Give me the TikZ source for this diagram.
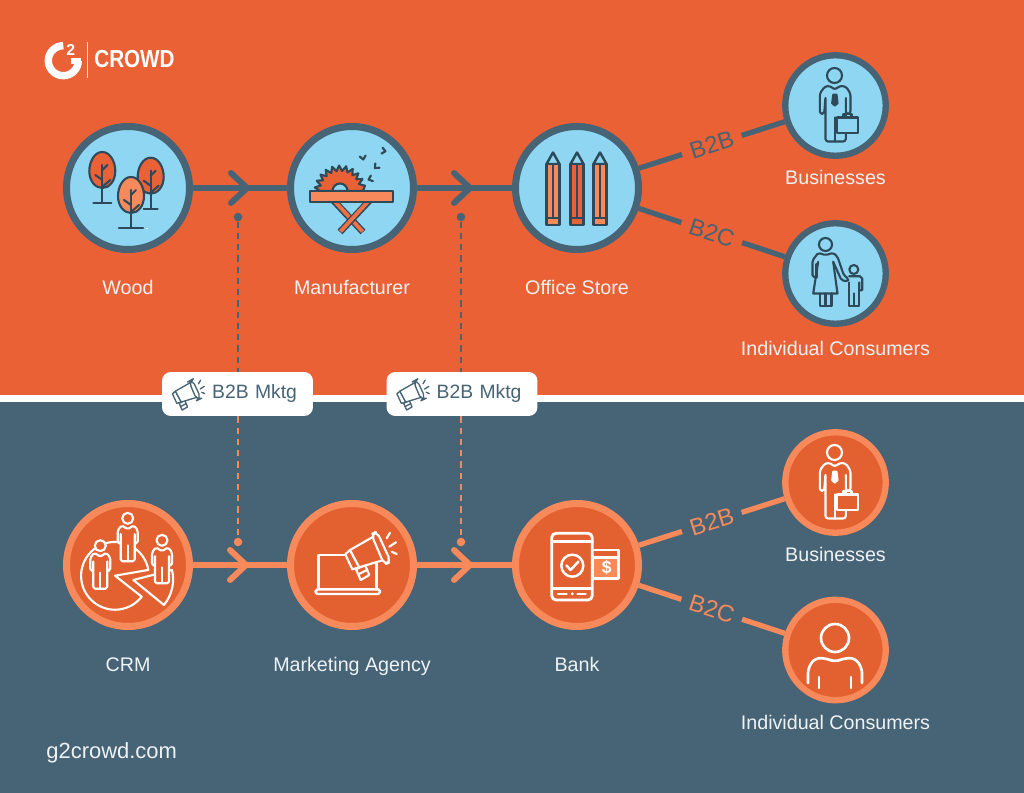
\documentclass[tikz,border=0pt]{standalone}
\usepackage{fontspec}
\setmainfont{Liberation Sans}
\usetikzlibrary{positioning}

\definecolor{topbg}{HTML}{EA6135}
\definecolor{slate}{HTML}{466475}
\definecolor{deepink}{HTML}{2E4A5A}
\definecolor{sky}{HTML}{8ED6F1}
\definecolor{pale}{HTML}{F7895A}
\definecolor{botfill}{HTML}{E36131}
\definecolor{paper}{HTML}{EEF2F4}
\colorlet{iconink}{deepink}
\colorlet{iconfill}{sky}

\tikzset{
    hubtop/.style={circle, draw=slate, fill=sky, line width=4pt, minimum size=2.46cm},
    leaftop/.style={hubtop, minimum size=2.01cm, line width=3.6pt},
    hubbot/.style={circle, draw=pale, fill=botfill, line width=4pt, minimum size=2.46cm},
    leafbot/.style={hubbot, minimum size=2.01cm, line width=3.6pt},
    caption/.style={text=paper, font=\fontsize{11.2}{13}\selectfont, inner sep=0pt, text height=8.2pt, text depth=2.5pt},
    flowtop/.style={draw=slate, line width=3.4pt},
    flowbot/.style={draw=pale, line width=3pt},
    chevron/.style={line width=3.4pt, line cap=round, line join=round},
    btag/.style={sloped, font=\fontsize{13.5}{15}\selectfont, inner xsep=5pt, inner ysep=0pt},
    linkdot/.style={circle, minimum size=0.17cm, inner sep=0pt},
    dashlink/.style={line width=1.1pt, dash pattern=on 3.6pt off 2.8pt},
    mktgtag/.style={fill=white, rounded corners=5pt, minimum width=3.02cm, minimum height=0.88cm,
        text=slate, text width=2.38cm, inner xsep=0.32cm, align=right, font=\fontsize{11}{13}\selectfont},
    iconline/.style={draw=iconink, line width=1.2pt, line join=round, line cap=round},
    businessman/.pic={
        \draw[iconline, fill=iconfill] (-1,-30) circle (7.5);
        \draw[iconline, fill=iconfill, rounded corners=1.5pt] (-15.7,8.3) -- (-15.7,-12) -- (-10.7,-19) -- (-5.7,-19.7)
            -- (-0.7,-15.7) -- (4.3,-19.7) -- (10.3,-19) -- (15,-12) -- (15,8.3) -- (10.3,8.3) -- (10.3,-9)
            -- (10.3,36) -- (-10,36) -- (-10,-9) -- (-11.3,8.3) -- cycle;
        \draw[iconline] (-0.7,12) -- (-0.7,36);
        \draw[iconline, fill=iconink] (-2.3,-10.7) -- (1,-10.7) -- (2,-2.3) -- (-0.7,0) -- (-3.3,-2.3) -- cycle;
        \draw[iconline] (8,12) -- (8,8.5) -- (16,8.5) -- (16,12);
        \draw[iconline, fill=iconfill] (1.7,12) rectangle (22.7,27.7);
    },
    crmperson/.pic={
        \draw[iconline, fill=iconfill] (0,0) circle (5.5);
        \draw[iconline, fill=iconfill, rounded corners=1pt] (-10,25) -- (-10,12) -- (-6,7) -- (0,11) -- (6,7) -- (10,12)
            -- (10,25) -- (7,25) -- (7,14) -- (7,43) -- (-7,43) -- (-7,14) -- (-7,25) -- cycle;
        \draw[iconline] (0,27) -- (0,43);
    },
    megaphone/.pic={
        \draw[iconline, fill=iconfill] (-21.3,-5.3) -- (-26,-1) -- (-19,14) -- (-12,12) -- cycle;
        \draw[iconline, fill=iconfill] (-15.3,14) -- (-6.3,9.7) -- (-2,19.7) -- (-10.6,24.7) -- cycle;
        \draw[iconline] (-13,19) -- (-4,14.5);
        \draw[iconline, fill=iconfill] (2,-18.6) -- (-21.3,-5.3) -- (-12,12) -- (12,4.7) -- cycle;
        \draw[iconline, fill=iconfill, rounded corners=3pt] (0,-21) -- (5.5,-24) -- (19.5,6.5) -- (13,9.5) -- cycle;
        \draw[iconline] (15.4,-17) -- (18.7,-22.6) (18,-8.6) -- (24.7,-13) (20.4,-3.6) -- (25.4,-1.3);
    }
}

\begin{document}
\begin{tikzpicture}[x=0.02cm, y=-0.02cm]
    \useasboundingbox (0,0) rectangle (1024,793);

    % Two bands and the white strip between them
    \fill[topbg] (0,0) rectangle (1024,395);
    \fill[slate] (0,402) rectangle (1024,793);
    \fill[white] (0,395) rectangle (1024,402);

    % Logo
    \draw[white, line width=4.2pt] (63.3,45.7) arc[start angle=-90, end angle=-360, radius=15];
    \draw[white, line width=3.4pt] (80.5,60.7) -- (71,60.7);
    \node[text=white, inner sep=0pt, font=\bfseries\fontsize{9}{9}\selectfont] (logotwo) at (70.7,50) {2};
    \coordinate (logotop) at (87.7,41.7);
    \coordinate (logobot) at (87.7,77.7);
    \draw[white!85!topbg, line width=0.7pt] (logotop) -- (logobot);
    \node[text=white, inner sep=0pt, xscale=0.84, font=\bfseries\fontsize{14}{14}\selectfont] (logoword) at (134.5,59.5) {CROWD};

    % Top row
    \node[hubtop] (wood) at (128,188) {};
    \node[hubtop] (manufacturer) at (352,188) {};
    \node[hubtop] (office) at (577,188) {};
    \node[leaftop] (busitop) at (835.5,105.5) {};
    \node[leaftop] (conitop) at (835.5,273.5) {};

    \node[caption, below=0.54cm of wood] (woodtext) {Wood};
    \node[caption, below=0.54cm of manufacturer] (manutext) {Manufacturer};
    \node[caption, below=0.54cm of office] (officetext) {Office Store};
    \node[caption, below=0.22cm of busitop] (busitoptext) {Businesses};
    \node[caption, below=0.28cm of conitop] (conitoptext) {Individual Consumers};

    \draw[flowtop] (wood) -- (manufacturer);
    \draw[flowtop] (manufacturer) -- (office);
    \draw[flowtop, line width=3pt] (office) -- node[btag, fill=topbg, text=slate] {B2B} (busitop);
    \draw[flowtop, line width=3pt] (office) -- node[btag, fill=topbg, text=slate] {B2C} (conitop);

    % Bottom row
    \node[hubbot] (crm) at (128,565) {};
    \node[hubbot] (agency) at (352,565) {};
    \node[hubbot] (bank) at (577,565) {};
    \node[leafbot] (busibot) at (835.5,482.5) {};
    \node[leafbot] (conibot) at (835.5,650) {};

    \node[caption, below=0.54cm of crm] (crmtext) {CRM};
    \node[caption, below=0.54cm of agency] (agencytext) {Marketing Agency};
    \node[caption, below=0.54cm of bank] (banktext) {Bank};
    \node[caption, below=0.22cm of busibot] (busibottext) {Businesses};
    \node[caption, below=0.22cm of conibot] (conibottext) {Individual Consumers};
    \node[text=paper, anchor=west, inner sep=0pt, font=\fontsize{12.5}{14}\selectfont] (site) at (46,753) {g2crowd.com};

    \draw[flowbot] (crm) -- (agency);
    \draw[flowbot] (agency) -- (bank);
    \draw[flowbot] (bank) -- node[btag, fill=slate, text=pale] {B2B} (busibot);
    \draw[flowbot] (bank) -- node[btag, fill=slate, text=pale] {B2C} (conibot);

    % Chevrons on the two rows
    \foreach \tipname/\tipx/\tipy/\tipcol in {tipa/247/188/slate, tipb/470/188/slate, tipc/246/565/pale, tipd/470/565/pale} {
        \coordinate (\tipname) at (\tipx,\tipy);
        \draw[chevron, \tipcol] (\tipname) ++(-16,-15) -- (\tipname) -- ++(-16,15);
    }

    % Marketing tags and the dashed links through them
    \node[mktgtag] (taga) at (237.5,394) {B2B Mktg};
    \node[mktgtag] (tagb) at (462,394) {B2B Mktg};
    \node[linkdot, fill=slate] (dota) at (238,217) {};
    \node[linkdot, fill=slate] (dotb) at (461,217) {};
    \node[linkdot, fill=pale] (dotc) at (238,542) {};
    \node[linkdot, fill=pale] (dotd) at (461,542) {};
    \draw[dashlink, slate] (dota) -- (dota |- taga.north);
    \draw[dashlink, slate] (dotb) -- (dotb |- tagb.north);
    \draw[dashlink, pale] (dotc |- taga.south) -- (dotc);
    \draw[dashlink, pale] (dotd |- tagb.south) -- (dotd);

    \begin{scope}[iconline/.append style={line width=0.75pt}]
        \colorlet{iconink}{slate}
        \colorlet{iconfill}{white}
        \pic[scale=0.63] at (188.8,394.5) {megaphone};
        \pic[scale=0.63] at (413.3,394.5) {megaphone};
    \end{scope}

    % Wood icon
    \colorlet{iconink}{deepink}
    \colorlet{iconfill}{sky}
    \foreach \tx/\ty/\tbase/\tfill in {102.3/170/9/topbg, 150.7/175.7/7/topbg, 131/195/12/pale} {
        \begin{scope}[shift={(\tx,\ty)}]
            \draw[iconline, fill=\tfill] (0,-18) .. controls (8,-18) and (13,-8) .. (13,1)
                .. controls (13,11) and (7,18) .. (0,18) .. controls (-7,18) and (-13,11) .. (-13,1)
                .. controls (-13,-8) and (-8,-18) .. (0,-18) -- cycle;
            \draw[iconline] (0,-5) -- (0,33) (-\tbase,33) -- (\tbase,33);
            \draw[iconline] (0,0) -- (5,-5) (0,10) -- (-7,5) (0,17) -- (8,10);
        \end{scope}
    }
    \fill[white] (145.5,228) rectangle (148,229.5);

    % Saw icon
    \draw[iconline, fill=topbg] (317,191) \foreach \a in {172,156,...,12} {
        -- ({340+20*cos(\a+8)},{191-20*sin(\a+8)}) -- ({340+25.5*cos(\a)},{191-25.5*sin(\a)}) } -- (363,191) -- cycle;
    \draw[iconline, fill=sky] (332.5,191) arc[start angle=180, end angle=360, radius=7.5] -- cycle;
    \draw[deepink, line width=3.8pt] (333,200) -- (363,232);
    \draw[topbg!60!pale, line width=2.2pt] (333.5,200) -- (362.5,231.5);
    \draw[deepink, line width=3.8pt] (370,200) -- (340,232);
    \draw[topbg!60!pale, line width=2.2pt] (369.5,200) -- (340.5,231.5);
    \draw[iconline, fill=pale] (310,191) rectangle (392.7,201.7);
    \foreach \cx/\cy/\crot in {363/158/10, 384/151/80, 376/167/-45, 370/179/-70} {
        \draw[iconline, rotate around={\crot:(\cx,\cy)}] (\cx-3,\cy-2) -- (\cx,\cy+1.5) -- (\cx+3,\cy-2);
    }

    % Pencil icon
    \foreach \px/\pfill in {553/pale, 577/topbg, 600/pale} {
        \draw[iconline, line width=1.4pt, fill=sky] (\px-6.5,164) -- (\px,152.5) -- (\px+6.5,164) -- cycle;
        \draw[iconline, line width=1.4pt, fill=\pfill] (\px-6.5,164) rectangle (\px+6.5,225);
        \draw[iconline] (\px,164) -- (\px,218);
        \draw[iconline] (\px-6.5,218) -- (\px+6.5,218);
    }

    % Business icons
    \pic at (835.5,105.5) {businessman};

    % Mother and child icon
    \begin{scope}[shift={(835.5,273.5)}]
        \draw[iconline, fill=sky] (-10,-29) circle (6.5);
        \draw[iconline, rounded corners=1pt] (-19,4) -- (-23,3.3) -- (-23,-13) -- (-17.3,-20.7) -- (-10,-18.3)
            -- (-2.3,-20.7) -- (2,-16.7) -- (8.3,1.7) -- (12.7,5) -- (12.7,8) -- (6,6.7) -- (-2.3,-11.7);
        \draw[iconline] (-19,4) -- (-19,-9.5);
        \draw[iconline] (-17.3,-11.7) -- (-22.3,20) -- (2,20) -- (-2.3,-11.7);
        \draw[iconline] (-15.7,20) -- (-15.7,32.3) -- (-4,32.3) -- (-4,20) (-10,20) -- (-10,32.3);
        \draw[iconline, fill=sky] (18.3,-4) circle (4.5);
        \draw[iconline] (13.7,2.7) -- (24.3,2.7) -- (26.7,5) -- (26.7,16.7) -- (23.7,16.7) -- (23.7,9);
        \draw[iconline] (23.7,16.7) -- (23.7,32.3) -- (13.7,32.3) -- (13.7,9) (18.7,20) -- (18.7,32.3);
    \end{scope}

    % White icons of the bottom row
    \colorlet{iconink}{white}
    \colorlet{iconfill}{botfill}

    % Pie with three people
    \draw[iconline, fill=botfill] (115,575.7) -- (141.7,596.7) arc[start angle=38, end angle=350, radius=33.9] -- cycle;
    \draw[iconline, fill=botfill] (133.3,580) -- (172,570) .. controls (175,582) and (172,595) .. (164,605) -- cycle;
    \pic at (100.3,545.7) {crmperson};
    \pic at (127.7,518.3) {crmperson};
    \pic at (162,540.3) {crmperson};

    % Laptop with megaphone
    \draw[iconline, line width=1.4pt] (318.3,589.3) -- (318.3,555) -- (376.7,555) -- (376.7,589.3);
    \draw[iconline, line width=1.4pt, rounded corners=1pt] (315.7,589.3) rectangle (380,594);
    \pic at (371.3,555.3) {megaphone};

    % Phone and card
    \draw[iconline, line width=1.4pt, fill=pale] (592.3,557.7) rectangle (618.3,578.3);
    \draw[iconline, line width=1.4pt] (592.3,550) -- (618.3,550) -- (618.3,557.7);
    \node[text=white, inner sep=0pt, font=\bfseries\fontsize{10}{10}\selectfont] (dollar) at (606.7,567.7) {\$};
    \draw[iconline, line width=1.6pt, rounded corners=2.5pt, fill=botfill] (551.7,533.3) rectangle (592.3,600);
    \draw[iconline, line width=1.4pt] (551.7,541.7) -- (592.3,541.7) (551.7,588.3) -- (592.3,588.3);
    \draw[iconline, line width=1.4pt] (572.3,565.7) circle (11);
    \draw[iconline, line width=1.4pt] (566.5,565.5) -- (570.5,570) -- (578.5,561.5);
    \draw[iconline] (558,593.8) -- (566.7,593.8) (577.3,593.8) -- (585.7,593.8);
    \fill[white] (572.3,593.8) circle (1.6);

    \pic at (835.5,482.5) {businessman};

    % Consumer icon
    \draw[iconline, line width=1.5pt] (835,638) circle (14);
    \draw[iconline, line width=1.5pt, rounded corners=3pt] (808,683) -- (808,668) -- (815,658) -- (827,658.5)
        -- (835,662) -- (843,658.5) -- (855,658) -- (862,668) -- (862,683);
    \draw[iconline, line width=1.5pt] (819,677) -- (819,688) (851,677) -- (851,688);
\end{tikzpicture}
\end{document}
